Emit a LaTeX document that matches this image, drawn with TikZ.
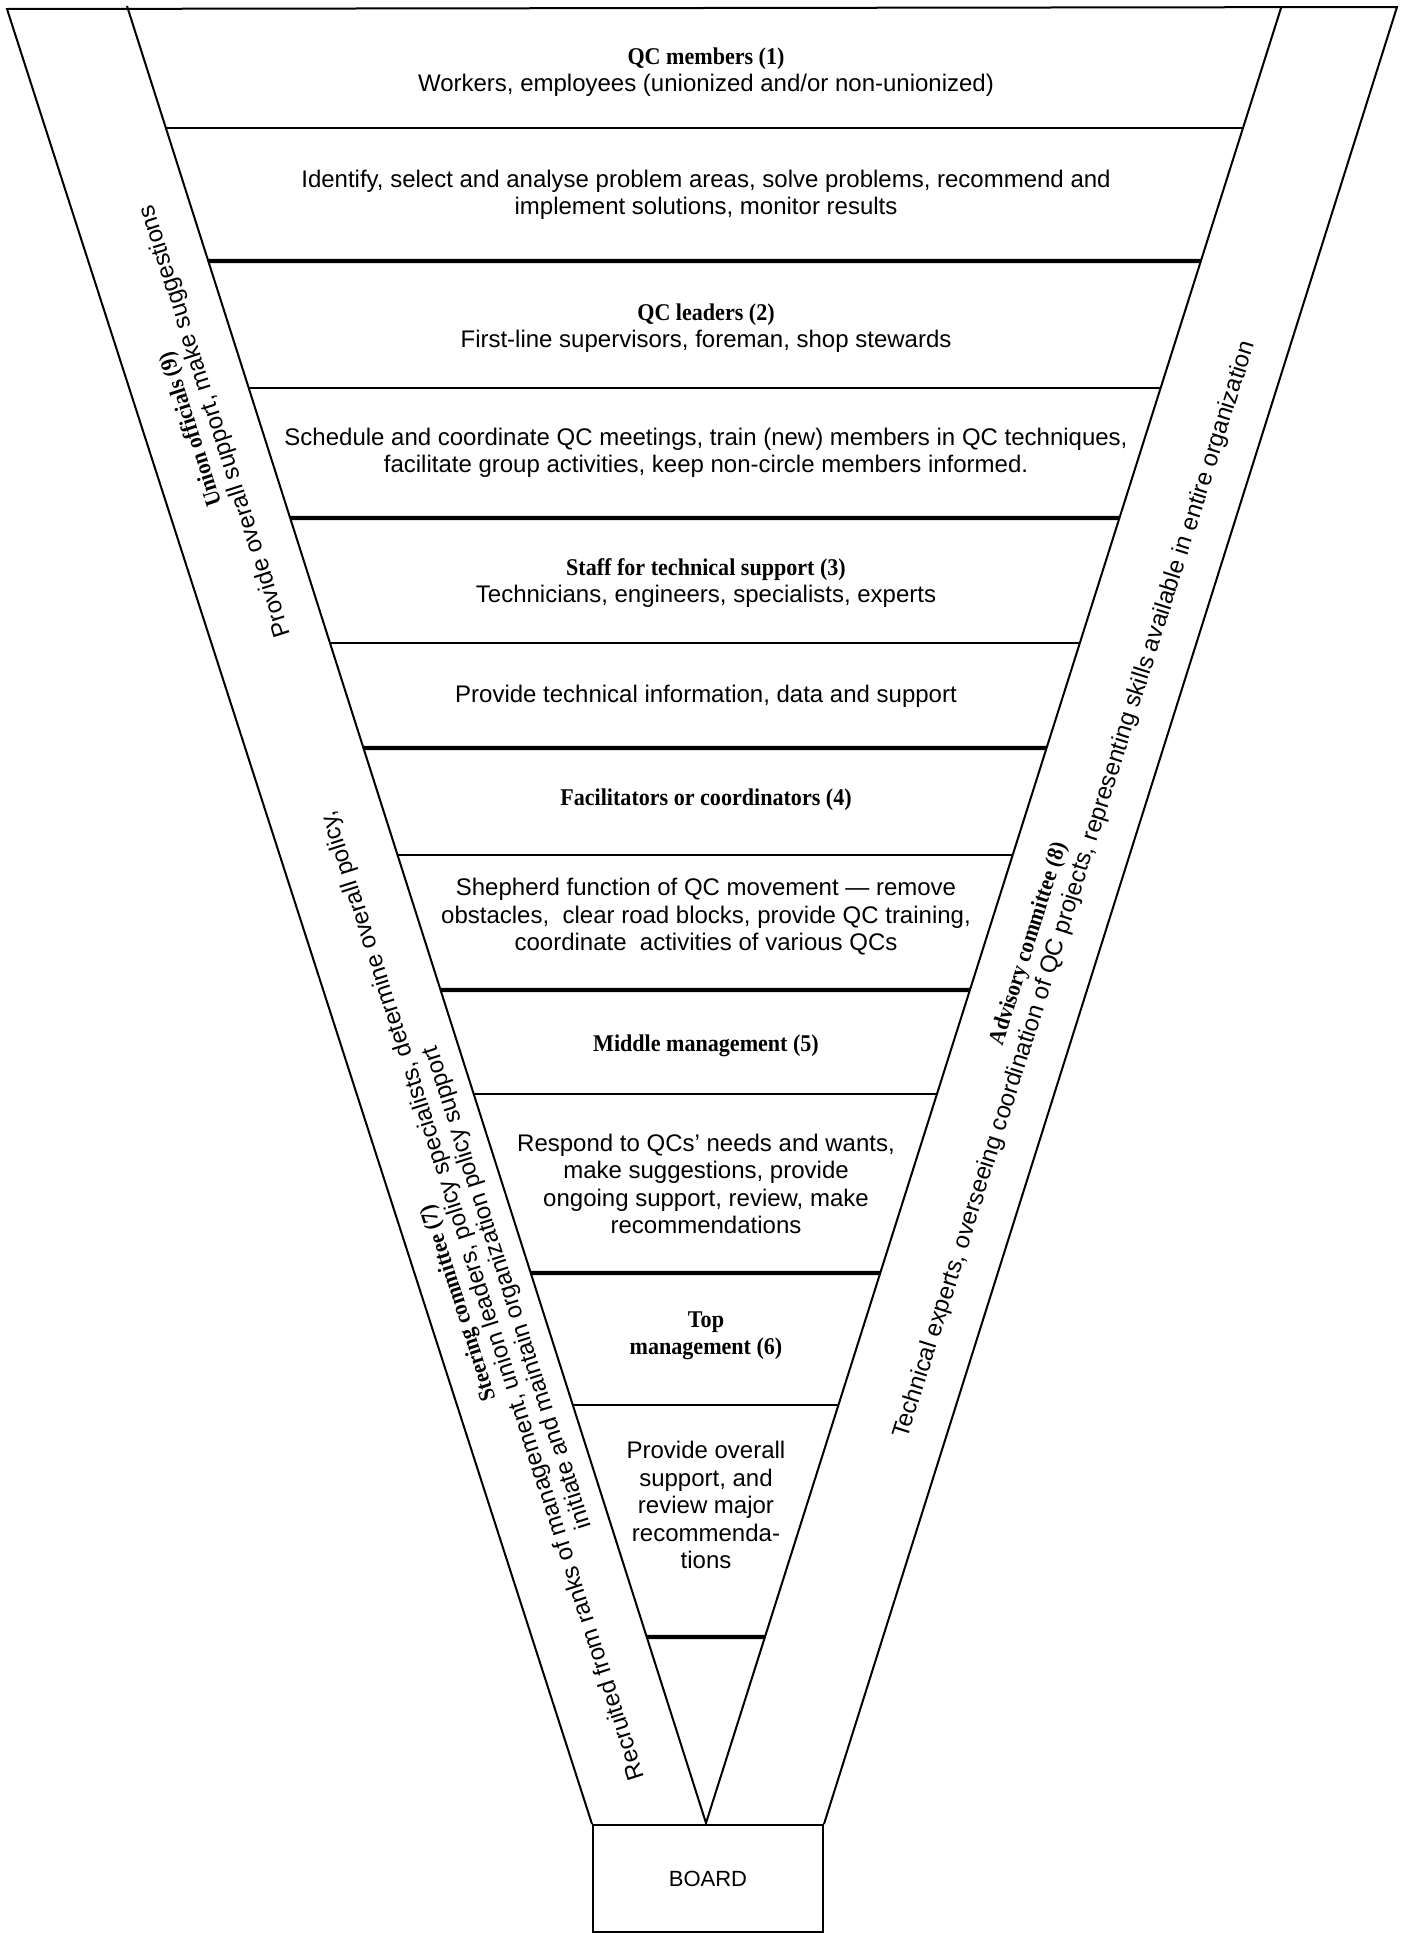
\documentclass[tikz,border=0pt]{standalone}
\usepackage{fontspec}
\setmainfont{Liberation Serif}
\setsansfont{Liberation Sans}
\newfontfamily\headfont{Liberation Serif}[FakeStretch=0.92]
\usepackage{tikz}
\usetikzlibrary{positioning,calc}
\newcommand{\qchead}[1]{{\headfont\bfseries #1}}
\newcommand{\bandhead}[1]{{\headfont\bfseries\fontsize{11.5}{13}\selectfont #1}}
\tikzset{
  funnel/.style={line width=1pt, line join=miter},
  tier line/.style={line width=0.9pt},
  tier break/.style={line width=2.2pt},
  tier/.style={align=center, inner sep=0pt, font=\sffamily\fontsize{12}{13.75}\selectfont},
  band/.style={align=center, inner sep=0pt, font=\sffamily\fontsize{12}{13}\selectfont},
  left band/.style={band, rotate=107.8},
  right band/.style={band, rotate=72.4},
  board/.style={draw, line width=1pt, inner sep=0pt, minimum width=115pt,
    minimum height=53.5pt, font=\sffamily\fontsize{11}{13}\selectfont}
}

\begin{document}
\begin{tikzpicture}[x=0.5pt, y=-0.5pt]
  \useasboundingbox (0,0) rectangle (1405,1933);
  \coordinate (oTL) at (7,9);
  \coordinate (iTL) at (127,6);
  \coordinate (iTR) at (1281,8);
  \coordinate (oTR) at (1397,7);
  \coordinate (apex) at (706,1823);
  \node[board] (board) at (708,1878.5) {BOARD};
  \draw[funnel] (board.north west) -- (oTL) -- (oTR) -- (board.north east);
  \draw[funnel] (iTL) -- (apex) -- (iTR);
  \foreach \y in {128,388,643,855,1094,1405}
    \draw[tier line] ($(iTL)!{(\y-6)/1817}!(apex)$) -- ($(iTR)!{(\y-8)/1815}!(apex)$);
  \foreach \y in {261,518,748,990,1273,1637}
    \draw[tier break] ($(iTL)!{(\y-6)/1817}!(apex)$) -- ($(iTR)!{(\y-8)/1815}!(apex)$);

  \node[tier] (t1) at (706,72) {\qchead{QC members (1)}\\Workers, employees (unionized and/or non-unionized)};
  \node[tier] (t2) at (706,195) {Identify, select and analyse problem areas, solve problems, recommend and\\implement solutions, monitor results};
  \node[tier] (t3) at (706,328) {\qchead{QC leaders (2)}\\First-line supervisors, foreman, shop stewards};
  \node[tier] (t4) at (706,453) {Schedule and coordinate QC meetings, train (new) members in QC techniques,\\facilitate group activities, keep non-circle members informed.};
  \node[tier] (t5) at (706,583) {\qchead{Staff for technical support (3)}\\Technicians, engineers, specialists, experts};
  \node[tier] (t6) at (706,696) {Provide technical information, data and support};
  \node[tier] (t7) at (706,800) {\qchead{Facilitators or coordinators (4)}};
  \node[tier] (t8) at (706,917) {Shepherd function of QC movement --- remove\\obstacles,~~clear road blocks, provide QC training,\\coordinate~~activities of various QCs};
  \node[tier] (t9) at (706,1046) {\qchead{Middle management (5)}};
  \node[tier] (t10) at (706,1184) {Respond to QCs' needs and wants,\\make suggestions, provide\\ongoing support, review, make\\recommendations};
  \node[tier] (t11) at (706,1336) {\qchead{Top}\\\qchead{management (6)}};
  \node[tier] (t12) at (706,1505) {Provide overall\\support, and\\review major\\recommenda-\\tions};

  \node[left band] (union) at (204,425) {\bandhead{Union officials (9)}\\Provide overall support, make suggestions};
  \node[left band] (steering) at (484,1295) {\bandhead{Steering committee (7)}\\Recruited from ranks of management, union leaders, policy specialists, determine overall policy,\\initiate and maintain organization policy support};
  \node[right band] (advisory) at (1029,944) {\bandhead{Advisory committee (8)}};
  \node[right band] (experts) at (1075,890) {Technical experts, overseeing coordination of QC projects, representing skills available in entire organization};
\end{tikzpicture}
\end{document}
